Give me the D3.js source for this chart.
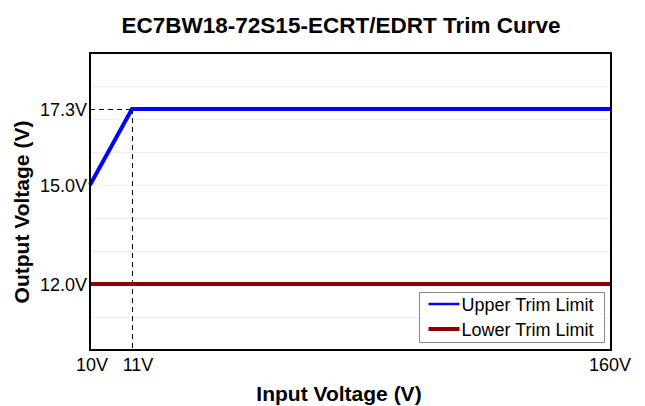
<!DOCTYPE html>
<meta charset="utf-8">
<script src="https://d3js.org/d3.v7.min.js"></script>
<style>
  body { margin: 0; background: #fff; }
  text { font-family: "Liberation Sans", Arial, sans-serif; }
</style>
<body>
<div id="chart"></div>
<script>

	// data
	var xTicks = [10, 11, 160];
	var yTicks = [12, 15, 17.3];
	var yGrid = [11, 12, 13, 14, 15, 16, 17, 18];
	var upperX = [10, 11, 160];
	var upperY = [15, 17.3, 17.3];
	var lowerX = [10, 160];
	var lowerY = [12, 12];
	var seriesNames = ["Upper Trim Limit", "Lower Trim Limit"];
	var seriesColors = ["#0000ff", "#8b0000"];

	var width = 645, height = 406;
	var m = { left: 90, right: 611, top: 53, bottom: 350 };

	var svg = d3.select("#chart").append("svg")
		.attr("width", width)
		.attr("height", height);

	// x axis is not linear in the original: 10 -> 11 takes a wide slot
	var x = d3.scaleLinear()
		.domain([10, 11, 160])
		.range([m.left, 132, m.right]);

	var y = d3.scaleLinear()
		.domain([10, 19])
		.range([m.bottom, m.top]);

	// snap 1px lines to the pixel grid
	function px(v){ return Math.round(v) + 0.5; }

	// grid
	svg.selectAll(".grid")
		.data(yGrid)
		.enter().append("line")
		.attr("x1", m.left).attr("x2", m.right)
		.attr("y1", function(d){ return px(y(d)); })
		.attr("y2", function(d){ return px(y(d)); })
		.attr("stroke", "#e3e8f3")
		.attr("stroke-width", 1)
		.attr("stroke-dasharray", "3,1");

	// dashed guides at 11V / 17.3V
	svg.append("line")
		.attr("x1", m.left).attr("x2", x(11))
		.attr("y1", px(y(17.3))).attr("y2", px(y(17.3)))
		.attr("stroke", "#000").attr("stroke-dasharray", "5,4");
	svg.append("line")
		.attr("x1", px(x(11))).attr("x2", px(x(11)))
		.attr("y1", y(17.3)).attr("y2", m.bottom)
		.attr("stroke", "#000").attr("stroke-dasharray", "5,4");

	var line = d3.line()
		.x(function(d){ return x(d[0]); })
		.y(function(d){ return y(d[1]); });

	svg.append("path")
		.datum(d3.zip(lowerX, lowerY))
		.attr("d", line)
		.attr("fill", "none")
		.attr("stroke", seriesColors[1])
		.attr("stroke-width", 4);

	svg.append("path")
		.datum(d3.zip(upperX, upperY))
		.attr("d", line)
		.attr("fill", "none")
		.attr("stroke", seriesColors[0])
		.attr("stroke-width", 4)
		.attr("stroke-linejoin", "miter");

	// frame
	svg.append("rect")
		.attr("x", m.left).attr("y", m.top)
		.attr("width", m.right - m.left).attr("height", m.bottom - m.top)
		.attr("fill", "none")
		.attr("stroke", "#000")
		.attr("stroke-width", 2);

	// tick labels
	svg.selectAll(".ylab")
		.data(yTicks)
		.enter().append("text")
		.attr("x", m.left - 3)
		.attr("y", function(d){ return y(d) + 7; })
		.attr("text-anchor", "end")
		.attr("font-size", 18)
		.text(function(d){ return d.toFixed(1) + "V"; });

	var xOffsets = [2, 6, -1];
	svg.selectAll(".xlab")
		.data(xTicks)
		.enter().append("text")
		.attr("x", function(d, i){ return x(d) + xOffsets[i]; })
		.attr("y", 371)
		.attr("text-anchor", "middle")
		.attr("font-size", 18)
		.text(function(d){ return d + "V"; });

	// titles
	svg.append("text")
		.attr("x", 341).attr("y", 33)
		.attr("text-anchor", "middle")
		.attr("font-size", 22.5)
		.attr("font-weight", "bold")
		.text("EC7BW18-72S15-ECRT/EDRT Trim Curve");

	svg.append("text")
		.attr("x", 339).attr("y", 401)
		.attr("text-anchor", "middle")
		.attr("font-size", 21)
		.attr("font-weight", "bold")
		.text("Input Voltage (V)");

	svg.append("text")
		.attr("transform", "translate(29,212) rotate(-90)")
		.attr("text-anchor", "middle")
		.attr("font-size", 21)
		.attr("font-weight", "bold")
		.text("Output Voltage (V)");

	// legend
	var legend = svg.append("g").attr("transform", "translate(419.5,292.5)");
	legend.append("rect")
		.attr("width", 185).attr("height", 50)
		.attr("fill", "#fff")
		.attr("stroke", "#888")
		.attr("stroke-width", 1);
	var items = legend.selectAll(".item")
		.data(seriesNames)
		.enter().append("g")
		.attr("transform", function(d, i){ return "translate(0," + (11.5 + i * 25) + ")"; });
	items.append("line")
		.attr("x1", 9).attr("x2", 40)
		.attr("stroke", function(d, i){ return seriesColors[i]; })
		.attr("stroke-width", function(d, i){ return i === 0 ? 2.5 : 4; });
	items.append("text")
		.attr("x", 42).attr("y", 7)
		.attr("font-size", 18)
		.text(function(d){ return d; });

</script>
</body>
